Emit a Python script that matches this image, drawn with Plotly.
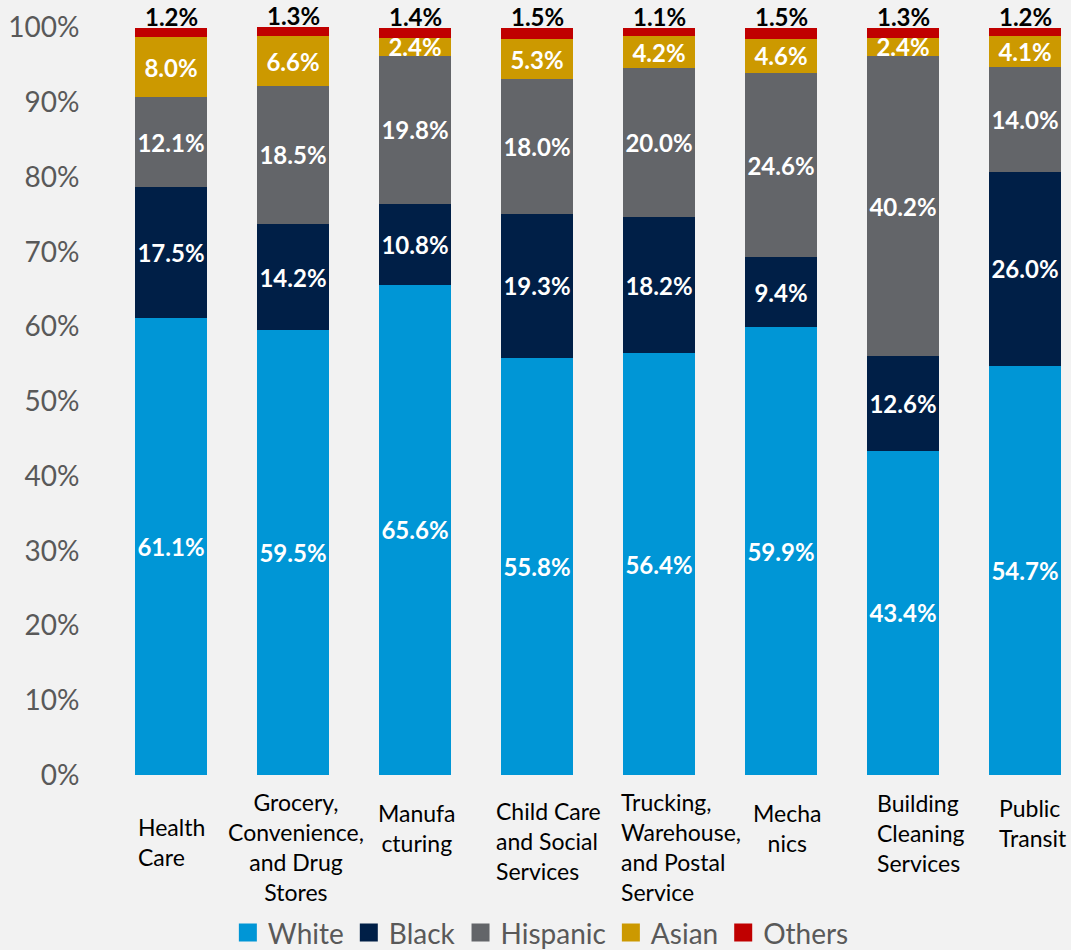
import plotly.graph_objects as go

categories = [
    "Health Care",
    "Grocery, Convenience, and Drug Stores",
    "Manufacturing",
    "Child Care and Social Services",
    "Trucking, Warehouse, and Postal Service",
    "Mechanics",
    "Building Cleaning Services",
    "Public Transit",
]
# Wrapped label text as shown under each bar
category_labels = [
    "Health<br>Care",
    "Grocery,<br>Convenience,<br>and Drug<br>Stores",
    "Manufa<br>cturing",
    "Child Care<br>and Social<br>Services",
    "Trucking,<br>Warehouse,<br>and Postal<br>Service",
    "Mecha<br>nics",
    "Building<br>Cleaning<br>Services",
    "Public<br>Transit",
]

white = [61.1, 59.5, 65.6, 55.8, 56.4, 59.9, 43.4, 54.7]
black = [17.5, 14.2, 10.8, 19.3, 18.2, 9.4, 12.6, 26.0]
hispanic = [12.1, 18.5, 19.8, 18.0, 20.0, 24.6, 40.2, 14.0]
asian = [8.0, 6.6, 2.4, 5.3, 4.2, 4.6, 2.4, 4.1]
others = [1.2, 1.3, 1.4, 1.5, 1.1, 1.5, 1.3, 1.2]

y_ticks = list(range(0, 101, 10))
y_tick_labels = [f"{v}%" for v in y_ticks]

FONT = "Lato, 'Open Sans', sans-serif"
BG = "#F2F2F2"

series = [
    ("White", white, "#0096D6"),
    ("Black", black, "#001F47"),
    ("Hispanic", hispanic, "#636569"),
    ("Asian", asian, "#CC9900"),
    ("Others", others, "#C00000"),
]

xs = list(range(len(categories)))
fig = go.Figure()
for name, vals, color in series:
    is_top = name == "Others"
    fig.add_trace(go.Bar(
        name=name,
        x=xs,
        y=vals,
        marker=dict(color=color, line=dict(width=0)),
        text=None if is_top else [f"{v:.1f}%" for v in vals],
        textposition="inside",
        insidetextanchor="middle",
        textangle=0,
        textfont=dict(family=FONT, size=24, color="white", weight="bold"),
        cliponaxis=False,
        constraintext="none",
        hoverinfo="skip",
        showlegend=False,
    ))
    # Legend entry with a larger square swatch
    fig.add_trace(go.Scatter(
        name=name,
        x=[None], y=[None],
        mode="markers",
        marker=dict(symbol="square", size=16, color=color,
                    line=dict(color=color, width=2)),
        hoverinfo="skip",
        showlegend=True,
    ))

# "Others" values sit just above the top of each stack
totals = [sum(v) for v in zip(white, black, hispanic, asian, others)]
for i, (tot, val) in enumerate(zip(totals, others)):
    fig.add_annotation(
        x=i, y=tot, xref="x", yref="y",
        text=f"<b>{val:.1f}%</b>", showarrow=False,
        xanchor="center", yanchor="bottom", yshift=-5,
        font=dict(family=FONT, size=24, color="#000000"),
    )

# Per-label alignment and offsets of the category text blocks
label_align = ["left", "center", "center", "left", "left", "center", "left", "left"]
label_xshift = [0, 3, 2, 11, 22, 6, 18, 8]
label_yshift = [-67, -72, -53, -66, -72, -53, -58, -48]

for i, lab in enumerate(category_labels):
    fig.add_annotation(
        x=i, y=0, xref="x", yref="y",
        text=lab, showarrow=False,
        align=label_align[i],
        xanchor="center", yanchor="middle",
        xshift=label_xshift[i], yshift=label_yshift[i],
        font=dict(family=FONT, size=23, color="#000000"),
    )

fig.update_layout(
    barmode="stack",
    bargap=0.41,
    width=1071,
    height=950,
    margin=dict(l=110, r=0, t=26, b=175),
    paper_bgcolor=BG,
    plot_bgcolor=BG,
    uniformtext=dict(minsize=24, mode="show"),
    showlegend=True,
    legend=dict(
        orientation="h",
        xref="container", yref="container",
        x=0.505, xanchor="center",
        y=0.018, yanchor="middle",
        font=dict(family=FONT, size=28, color="#595959"),
        bgcolor="rgba(0,0,0,0)",
        traceorder="normal",
        itemwidth=30,
    ),
    xaxis=dict(
        range=[-0.5, 7.377],
        showticklabels=False,
        showgrid=False,
        zeroline=False,
        showline=False,
        fixedrange=True,
    ),
    yaxis=dict(
        range=[0, 100.2],
        tickvals=y_ticks,
        ticktext=y_tick_labels,
        tickfont=dict(family=FONT, size=28, color="#595959"),
        ticks="outside",
        ticklen=24,
        tickcolor=BG,
        showgrid=False,
        zeroline=False,
        showline=False,
        fixedrange=True,
    ),
)

fig.write_html("out.html")
